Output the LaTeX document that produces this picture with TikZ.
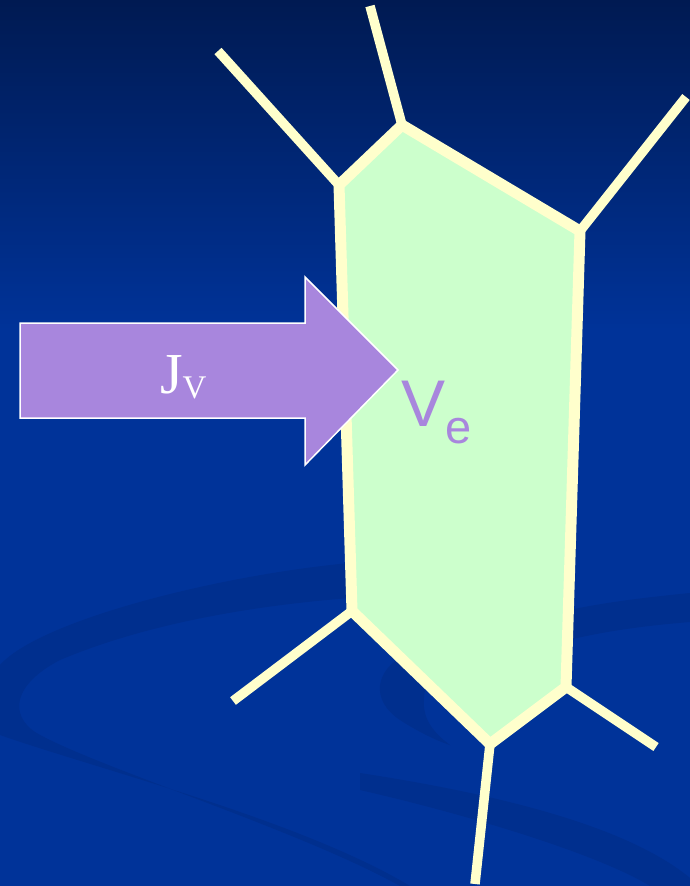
\documentclass[tikz,border=0pt]{standalone}
\usepackage{fontspec}
\setmainfont{Liberation Serif}
\newfontfamily\arialfont{Liberation Sans}
\definecolor{bgtop}{HTML}{001A52}
\definecolor{bgmid}{HTML}{003399}
\definecolor{swoosh}{HTML}{002F8E}
\definecolor{cellfill}{HTML}{CCFFCC}
\definecolor{cellline}{HTML}{FFFFCC}
\definecolor{arrowfill}{HTML}{A886DD}
\tikzset{
  spoke/.style={draw=cellline, line width=9.5pt, line cap=butt},
  wall/.style={draw=cellline, fill=cellfill, line width=11pt, line join=miter},
  flux/.style={fill=arrowfill, draw=white, line width=1.5pt, line join=miter},
  lbl/.style={inner sep=0pt, outer sep=0pt}
}
\begin{document}
\begin{tikzpicture}[x=1pt,y=-1pt]
\useasboundingbox (0,0) rectangle (690,886);
% background
\shade[top color=bgtop, bottom color=bgmid] (0,0) rectangle (690,330);
\fill[bgmid] (0,329) rectangle (690,886);
% swooshes
\fill[swoosh] (350,563) .. controls (220,575) and (40,620) .. (0,665) -- (0,735)
  .. controls (100,770) and (300,820) .. (410,886) -- (400,886)
  .. controls (300,830) and (90,765) .. (35,732)
  .. controls (10,715) and (12,685) .. (60,660)
  .. controls (150,622) and (260,605) .. (350,598) -- cycle;
\fill[swoosh] (690,593) .. controls (640,598) and (600,603) .. (560,612) -- (560,642)
  .. controls (600,632) and (640,626) .. (690,622) -- cycle;
\fill[swoosh] (405,655) .. controls (375,670) and (370,700) .. (400,720)
  .. controls (420,733) and (440,742) .. (450,745)
  .. controls (430,730) and (420,715) .. (425,690) -- cycle;
\fill[swoosh] (360,773) .. controls (470,790) and (620,820) .. (690,878) -- (690,886) -- (650,886)
  .. controls (600,855) and (470,815) .. (360,790) -- cycle;
% cell corners
\coordinate (A) at (339,185);
\coordinate (B) at (402,125);
\coordinate (C) at (580,231);
\coordinate (D) at (566,687);
\coordinate (E) at (490,744);
\coordinate (F) at (352,611);
\coordinate (a) at (218,51);
\coordinate (b) at (370,6);
\coordinate (c) at (686,97);
\coordinate (d) at (656,747);
\coordinate (e) at (475,884);
\coordinate (f) at (233,701);
% spokes
\draw[spoke] (A) -- (a);
\draw[spoke] (B) -- (b);
\draw[spoke] (C) -- (c);
\draw[spoke] (D) -- (d);
\draw[spoke] (E) -- (e);
\draw[spoke] (F) -- (f);
% cell
\path[wall] (A) -- (B) -- (C) -- (D) -- (E) -- (F) -- cycle;
% flux arrow
\path[flux] (20,323) -- (305,323) -- (305,277) -- (398,370) -- (305,465) -- (305,418) -- (20,418) -- cycle;
\node[lbl, anchor=base west, text=white, font=\fontsize{58}{58}\selectfont] (jv) at (160,393)
  {J\raisebox{-5pt}{\fontsize{33}{33}\selectfont V}};
% volume label
\node[lbl, anchor=base west, text=arrowfill, font=\arialfont\fontsize{66}{66}\selectfont] (ve) at (401,426)
  {V\raisebox{-17pt}{\fontsize{47}{47}\selectfont e}};
\end{tikzpicture}
\end{document}
